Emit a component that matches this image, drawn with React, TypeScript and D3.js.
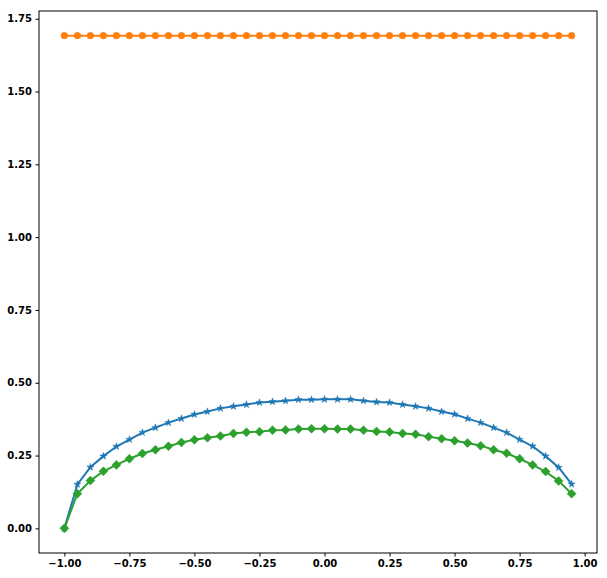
import React, { useEffect, useRef } from 'react';
import * as d3 from 'd3';

const xValues = [
  -1.0, -0.95, -0.9, -0.85, -0.8, -0.75, -0.7, -0.65, -0.6, -0.55,
  -0.5, -0.45, -0.4, -0.35, -0.3, -0.25, -0.2, -0.15, -0.1, -0.05,
  0.0, 0.05, 0.1, 0.15, 0.2, 0.25, 0.3, 0.35, 0.4, 0.45,
  0.5, 0.55, 0.6, 0.65, 0.7, 0.75, 0.8, 0.85, 0.9, 0.95,
];

const blueStar = [
  0.0, 0.151, 0.21, 0.248, 0.281, 0.305, 0.329, 0.346, 0.363, 0.377,
  0.391, 0.401, 0.412, 0.419, 0.425, 0.432, 0.435, 0.438, 0.442, 0.442,
  0.443, 0.443, 0.443, 0.438, 0.434, 0.432, 0.425, 0.419, 0.412, 0.401,
  0.392, 0.377, 0.363, 0.346, 0.329, 0.305, 0.282, 0.248, 0.209, 0.152,
];

const orangeDot = xValues.map(() => 1.692);

const greenDiamond = [
  0.0, 0.119, 0.164, 0.196, 0.218, 0.239, 0.257, 0.27, 0.282, 0.295,
  0.304, 0.311, 0.317, 0.326, 0.33, 0.332, 0.337, 0.338, 0.341, 0.342,
  0.342, 0.341, 0.341, 0.337, 0.333, 0.331, 0.326, 0.323, 0.315, 0.308,
  0.301, 0.293, 0.284, 0.27, 0.258, 0.239, 0.218, 0.195, 0.163, 0.119,
];

const xTicks = [-1.0, -0.75, -0.5, -0.25, 0.0, 0.25, 0.5, 0.75, 1.0];
const yTicks = [0.0, 0.25, 0.5, 0.75, 1.0, 1.25, 1.5, 1.75];

export default function App() {
  const svgRef = useRef<SVGSVGElement>(null);

  useEffect(() => {
    const width = 607;
    const height = 578;
    const m = { left: 39, right: 10, top: 11, bottom: 25 };

    const svg = d3.select(svgRef.current);
    svg.selectAll('*').remove();

    const x = d3.scaleLinear().domain([-1.0975, 1.0475]).range([m.left, width - m.right]);
    const y = d3.scaleLinear().domain([-0.0846, 1.7766]).range([height - m.bottom, m.top]);

    const font = 'DejaVu Sans';

    const series = [
      { values: blueStar, color: '#1f77b4', marker: 'star' },
      { values: orangeDot, color: '#ff7f0e', marker: 'circle' },
      { values: greenDiamond, color: '#2ca02c', marker: 'diamond' },
    ];

    const line = d3.line<[number, number]>()
      .x(d => x(d[0]))
      .y(d => y(d[1]));

    const plot = svg.append('g');

    series.forEach(s => {
      const pts: [number, number][] = xValues.map((v, i) => [v, s.values[i]]);
      plot.append('path')
        .attr('d', line(pts))
        .attr('fill', 'none')
        .attr('stroke', s.color)
        .attr('stroke-width', 2);

      const g = plot.append('g').attr('fill', s.color).attr('stroke', s.color);
      if (s.marker === 'circle') {
        g.selectAll('circle').data(pts).join('circle')
          .attr('cx', d => x(d[0]))
          .attr('cy', d => y(d[1]))
          .attr('r', 3.3)
          .attr('stroke-width', 0.5);
      } else if (s.marker === 'star') {
        g.selectAll('path').data(pts).join('path')
          .attr('d', d3.symbol(d3.symbolStar, 16)())
          .attr('transform', d => `translate(${x(d[0])},${y(d[1])})`)
          .attr('stroke-width', 0.5);
      } else {
        const r = 4.5;
        g.selectAll('path').data(pts).join('path')
          .attr('d', `M0,${-r}L${r},0L0,${r}L${-r},0Z`)
          .attr('transform', d => `translate(${x(d[0])},${y(d[1])})`)
          .attr('stroke-width', 0.5);
      }
    });

    // frame
    svg.append('rect')
      .attr('x', m.left).attr('y', m.top)
      .attr('width', width - m.left - m.right)
      .attr('height', height - m.top - m.bottom)
      .attr('fill', 'none')
      .attr('stroke', '#000')
      .attr('stroke-width', 1);

    const xAxis = d3.axisBottom(x).tickValues(xTicks).tickFormat(d3.format('.2f')).tickSizeInner(3.5).tickSizeOuter(0).tickPadding(3.5);
    const yAxis = d3.axisLeft(y).tickValues(yTicks).tickFormat(d3.format('.2f')).tickSizeInner(3.5).tickSizeOuter(0).tickPadding(3.5);

    const gx = svg.append('g').attr('transform', `translate(0,${height - m.bottom})`).call(xAxis);
    const gy = svg.append('g').attr('transform', `translate(${m.left},0)`).call(yAxis);

    [gx, gy].forEach(g => {
      g.select('.domain').remove();
      g.selectAll('text')
        .attr('font-family', font)
        .attr('font-weight', 'bold')
        .attr('font-size', 10)
        .attr('fill', '#000');
      g.selectAll('line').attr('stroke', '#000');
    });
    gx.selectAll('text').text((d: any) => d3.format('.2f')(d).replace('-', '\u2212'));
  }, []);

  return (
    <svg
      ref={svgRef}
      width={607}
      height={578}
      style={{ position: 'absolute', left: 0, top: 0, background: '#fff' }}
    />
  );
}
